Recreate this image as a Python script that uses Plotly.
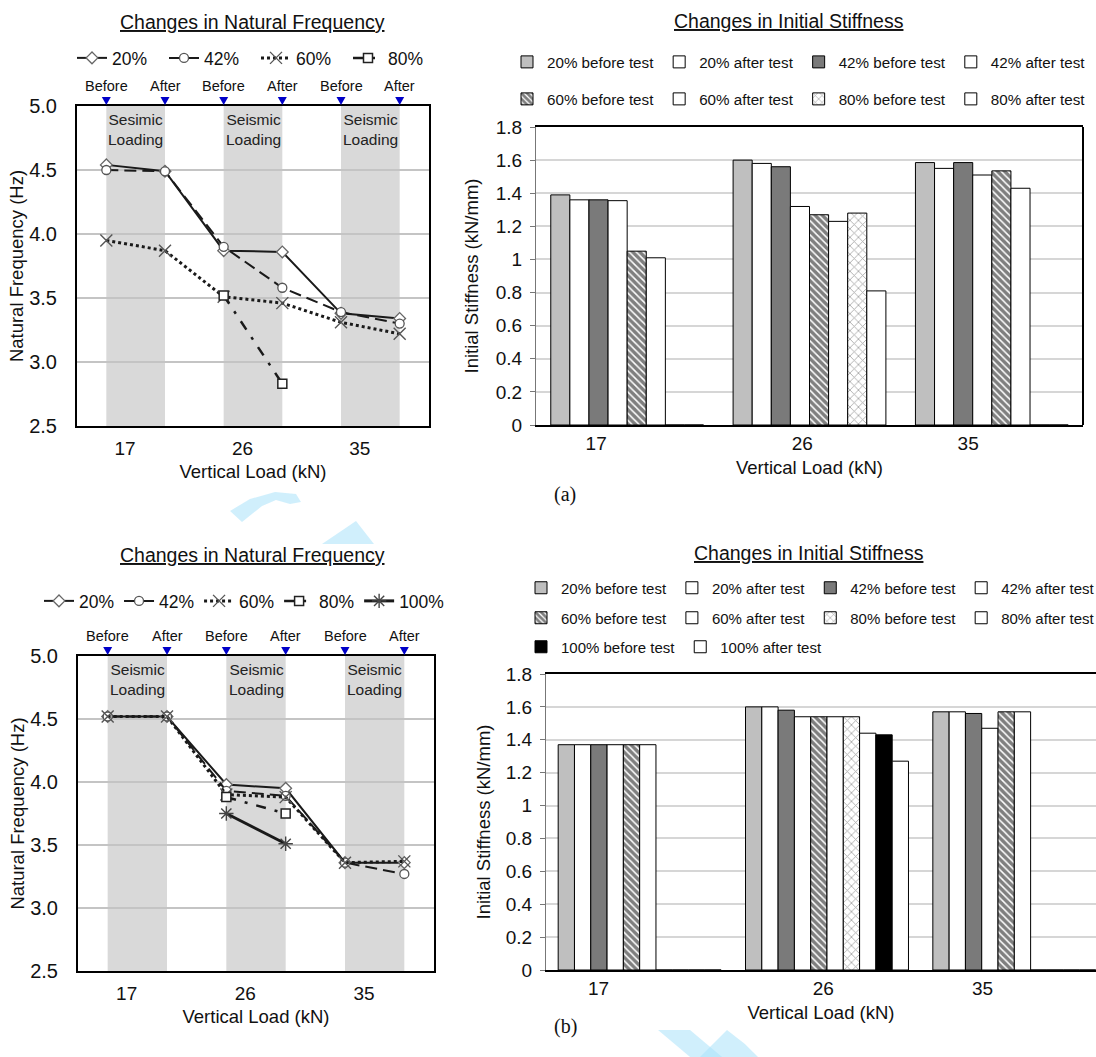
import plotly.graph_objects as go

W, H = 1096, 1057
FONT = "Liberation Sans, Arial, sans-serif"

# ---------------- data ----------------
stages = ["Before", "After", "Before", "After", "Before", "After"]
loads = ["17", "26", "35"]
band_text_a = ["Sesimic<br>Loading", "Seismic<br>Loading", "Seismic<br>Loading"]
band_text_b = ["Seismic<br>Loading", "Seismic<br>Loading", "Seismic<br>Loading"]

# (a) natural frequency (Hz) at each stage
freq_a_20 = [4.54, 4.49, 3.87, 3.86, 3.38, 3.34]
freq_a_42 = [4.50, 4.49, 3.90, 3.58, 3.39, 3.30]
freq_a_60 = [3.95, 3.87, 3.51, 3.46, 3.31, 3.22]
freq_a_80 = [None, None, 3.52, 2.83, None, None]

# (b) natural frequency (Hz)
freq_b_20 = [4.52, 4.52, 3.98, 3.95, 3.36, 3.36]
freq_b_42 = [4.52, 4.52, 3.93, 3.89, 3.36, 3.27]
freq_b_60 = [4.52, 4.52, 3.90, 3.88, 3.36, 3.37]
freq_b_80 = [None, None, 3.88, 3.75, None, None]
freq_b_100 = [None, None, 3.75, 3.51, None, None]

# (a) initial stiffness (kN/mm) for loads 17, 26, 35
stiff_a_20_before = [1.39, 1.60, 1.585]
stiff_a_20_after = [1.36, 1.58, 1.55]
stiff_a_42_before = [1.36, 1.56, 1.585]
stiff_a_42_after = [1.355, 1.32, 1.51]
stiff_a_60_before = [1.05, 1.27, 1.535]
stiff_a_60_after = [1.01, 1.23, 1.43]
stiff_a_80_before = [0, 1.28, 0]
stiff_a_80_after = [0, 0.81, 0]

# (b) initial stiffness (kN/mm)
stiff_b_20_before = [1.37, 1.60, 1.57]
stiff_b_20_after = [1.37, 1.60, 1.57]
stiff_b_42_before = [1.37, 1.58, 1.56]
stiff_b_42_after = [1.37, 1.54, 1.47]
stiff_b_60_before = [1.37, 1.54, 1.57]
stiff_b_60_after = [1.37, 1.54, 1.57]
stiff_b_80_before = [0, 1.54, 0]
stiff_b_80_after = [0, 1.44, 0]
stiff_b_100_before = [0, 1.43, 0]
stiff_b_100_after = [0, 1.27, 0]


# ---------------- helpers ----------------
def pxx(x):
    return x / W


def pxy(y):
    return 1 - y / H


fig = go.Figure()

# styles for the line series
line_styles = {
    "20%": dict(line=dict(color="#1a1a1a", width=2, dash="solid"),
                marker=dict(symbol="diamond", size=9, color="white", line=dict(color="#666", width=1.3))),
    "42%": dict(line=dict(color="#1a1a1a", width=2, dash="12px,6px"),
                marker=dict(symbol="circle", size=9, color="white", line=dict(color="#555", width=1.3))),
    "60%": dict(line=dict(color="#1a1a1a", width=3, dash="dot"),
                marker=dict(symbol="x-thin", size=12, color="#555", line=dict(color="#555", width=1.4))),
    "80%": dict(line=dict(color="#1a1a1a", width=2.5, dash="10px,9px,3px,9px"),
                marker=dict(symbol="square", size=9, color="white", line=dict(color="#222", width=1.5))),
    "100%": dict(line=dict(color="#1a1a1a", width=3, dash="solid"),
                 marker=dict(symbol="asterisk", size=12, color="#444", line=dict(color="#444", width=1.4))),
}

stage_idx = list(range(len(stages)))

line_sets = [
    ("x", "y", "legend", [("20%", freq_a_20), ("42%", freq_a_42), ("60%", freq_a_60), ("80%", freq_a_80)]),
    ("x3", "y3", "legend4", [("20%", freq_b_20), ("42%", freq_b_42), ("60%", freq_b_60), ("80%", freq_b_80),
                             ("100%", freq_b_100)]),
]
for xa, ya, lg, series in line_sets:
    for name, vals in series:
        st = line_styles[name]
        fig.add_trace(go.Scatter(x=stage_idx, y=vals, name=name, mode="lines+markers",
                                 line=st["line"], marker=st["marker"], connectgaps=False,
                                 xaxis=xa, yaxis=ya, legend=lg, cliponaxis=False))

# styles for the bar series
bar_styles = {
    "20% before test": dict(color="#bfbfbf"),
    "20% after test": dict(color="white"),
    "42% before test": dict(color="#7a7a7a"),
    "42% after test": dict(color="white"),
    "60% before test": dict(color="white", pattern=dict(shape="\\", fgcolor="#000", bgcolor="white",
                                                         size=5, solidity=0.7)),
    "60% after test": dict(color="white"),
    "80% before test": dict(color="white", pattern=dict(shape="x", fgcolor="#444", bgcolor="white",
                                                         size=6, solidity=0.25)),
    "80% after test": dict(color="white"),
    "100% before test": dict(color="black"),
    "100% after test": dict(color="white"),
}

bar_sets = [
    ("x2", "y2", 0.162,
     [("20% before test", stiff_a_20_before, "legend2"), ("20% after test", stiff_a_20_after, "legend2"),
      ("42% before test", stiff_a_42_before, "legend2"), ("42% after test", stiff_a_42_after, "legend2"),
      ("60% before test", stiff_a_60_before, "legend3"), ("60% after test", stiff_a_60_after, "legend3"),
      ("80% before test", stiff_a_80_before, "legend3"), ("80% after test", stiff_a_80_after, "legend3")]),
    ("x4", "y4", 0.13,
     [("20% before test", stiff_b_20_before, "legend5"), ("20% after test", stiff_b_20_after, "legend5"),
      ("42% before test", stiff_b_42_before, "legend5"), ("42% after test", stiff_b_42_after, "legend5"),
      ("60% before test", stiff_b_60_before, "legend6"), ("60% after test", stiff_b_60_after, "legend6"),
      ("80% before test", stiff_b_80_before, "legend6"), ("80% after test", stiff_b_80_after, "legend6"),
      ("100% before test", stiff_b_100_before, "legend7"), ("100% after test", stiff_b_100_after, "legend7")]),
]
load_idx = list(range(len(loads)))
for xa, ya, gap, series in bar_sets:
    n = len(series)
    bw = (1 - gap) / n
    for i, (name, vals, lg) in enumerate(series):
        st = dict(bar_styles[name])
        st["line"] = dict(color="black", width=1)
        fig.add_trace(go.Bar(x=load_idx, y=vals, name=name, marker=st, width=bw,
                             offset=-(1 - gap) / 2 + i * bw, xaxis=xa, yaxis=ya, legend=lg))

# ---------------- axes ----------------
dom = {
    "tl": dict(x=[77, 429], y=[106, 426]),
    "tr": dict(x=[536, 1083], y=[127, 425]),
    "bl": dict(x=[78, 434], y=[656, 971]),
    "br": dict(x=[546, W], y=[674, 970]),
}


def xdom(k):
    return [pxx(dom[k]["x"][0]), pxx(dom[k]["x"][1])]


def ydom(k):
    return [pxy(dom[k]["y"][1]), pxy(dom[k]["y"][0])]


line_label_shift = 0.32
line_x_common = dict(range=[-0.5, len(stages) - 0.5],
                     tickvals=[2 * i + line_label_shift for i in range(len(loads))], ticktext=loads,
                     showgrid=False, zeroline=False, showline=True, mirror=True, linecolor="black",
                     linewidth=2, ticks="", tickfont=dict(size=19), ticklabelstandoff=4,
                     title=dict(text="Vertical Load (kN)", font=dict(size=18.5), standoff=7))
line_y_common = dict(range=[2.5, 5.0], dtick=0.5, tickformat=".1f", showgrid=True, gridcolor="#c4c4c4",
                     gridwidth=1.5, zeroline=False, showline=True, mirror=True, linecolor="black",
                     linewidth=2, ticks="", tickfont=dict(size=20), ticklabelstandoff=14,
                     title=dict(text="Natural Frequency (Hz)", font=dict(size=18.5), standoff=1))

bar_label_shift_a = [-0.17, -0.04, -0.13]
bar_label_shift_b = [-0.22, -0.02, -0.17]


def bar_x(shift, rng):
    return dict(range=rng, tickvals=[i + s for i, s in zip(load_idx, shift)], ticktext=loads,
                showgrid=False, zeroline=False, showline=True, mirror=True, linecolor="black",
                linewidth=2, ticks="", tickfont=dict(size=19), ticklabelstandoff=0,
                title=dict(text="Vertical Load (kN)", font=dict(size=18.5), standoff=8))


def bar_y(title_standoff):
    return dict(range=[0, 1.8], dtick=0.2, showgrid=True, gridcolor="#d6d6d6", gridwidth=1.5,
                zeroline=False, showline=True, linecolor="#777", linewidth=1, ticks="outside",
                ticklen=5, tickcolor="#777", tickfont=dict(size=19), ticklabelstandoff=4,
                title=dict(text="Initial Stiffness (kN/mm)", font=dict(size=18.5), standoff=title_standoff))


layout = dict(
    width=W, height=H, margin=dict(l=0, r=0, t=0, b=0, autoexpand=False),
    paper_bgcolor="white", plot_bgcolor="white",
    font=dict(family=FONT, size=18, color="#111"), barmode="overlay", showlegend=True,
    xaxis=dict(domain=xdom("tl"), anchor="y", **line_x_common),
    yaxis=dict(domain=ydom("tl"), anchor="x", **line_y_common),
    xaxis3=dict(domain=xdom("bl"), anchor="y3", **line_x_common),
    yaxis3=dict(domain=ydom("bl"), anchor="x3", **line_y_common),
    xaxis2=dict(domain=xdom("tr"), anchor="y2", **bar_x(bar_label_shift_a, [-0.5, len(loads) - 0.5])),
    yaxis2=dict(domain=ydom("tr"), anchor="x2", **bar_y(12)),
    xaxis4=dict(domain=xdom("br"), anchor="y4",
                **bar_x(bar_label_shift_b, [-0.5, len(loads) - 0.5 - 12 / 187.5])),
    yaxis4=dict(domain=ydom("br"), anchor="x4", **bar_y(10)),
)


def legend_cfg(x, y, size, ew=None):
    d = dict(orientation="h", x=pxx(x), y=pxy(y), xanchor="left", yanchor="middle",
             font=dict(size=size, family=FONT), bgcolor="rgba(0,0,0,0)", itemwidth=30,
             traceorder="normal", tracegroupgap=0)
    if ew:
        d["entrywidth"] = ew
    return d


layout["legend"] = legend_cfg(72, 58, 17.5, 47)
layout["legend2"] = legend_cfg(507, 62, 15.2)
layout["legend3"] = legend_cfg(507, 99, 15.2)
layout["legend4"] = legend_cfg(39, 601, 17.5)
layout["legend5"] = legend_cfg(521, 588, 15)
layout["legend6"] = legend_cfg(521, 618, 15)
layout["legend7"] = legend_cfg(521, 647, 15)

fig.update_layout(**layout)

# ---------------- shapes ----------------
shapes = []
for xa, ya in [("x", "y"), ("x3", "y3")]:
    for i in range(0, len(stages), 2):
        shapes.append(dict(type="rect", xref=xa, x0=i, x1=i + 1, yref=ya + " domain", y0=0, y1=1,
                           fillcolor="#d9d9d9", line=dict(width=0), layer="below"))
    # blue "before / after" indicator triangles just above the frame
    for i in stage_idx:
        shapes.append(dict(type="path", xref=xa, yref=ya + " domain", xsizemode="pixel", ysizemode="pixel",
                           xanchor=i, yanchor=1, path="M -4.5,9 L 4.5,9 L 0,1 Z",
                           fillcolor="#0000c8", line=dict(width=0), layer="above"))
# right border of the top-right bar chart frame
shapes.append(dict(type="line", xref="x2 domain", x0=1, x1=1, yref="y2 domain", y0=0, y1=1,
                   line=dict(color="black", width=2)))


# light-blue watermark fragments
def path(points):
    return "M " + " L ".join(f"{pxx(a):.4f},{pxy(b):.4f}" for a, b in points) + " Z"


wm = "rgba(170,225,250,0.55)"
for pts in [
    [(230, 511), (250, 499), (275, 492), (296, 494), (301, 502), (290, 504), (276, 500), (262, 506), (242, 522)],
    [(322, 544), (356, 521), (374, 544)],
    [(658, 1030), (690, 1030), (722, 1057), (690, 1057)],
    [(700, 1057), (727, 1030), (745, 1044), (758, 1057)],
]:
    shapes.append(dict(type="path", xref="paper", yref="paper", layer="below", fillcolor=wm,
                       line=dict(width=0), path=path(pts)))
fig.update_layout(shapes=shapes)

# ---------------- annotations ----------------
ann = []
for xa, ya, btxt in [("x", "y", band_text_a), ("x3", "y3", band_text_b)]:
    for i, s in enumerate(stages):
        ann.append(dict(x=i, xref=xa, y=1, yref=ya + " domain", yanchor="bottom", yshift=10, text=s,
                        showarrow=False, font=dict(size=14.5, color="#111")))
    for j, t in enumerate(btxt):
        ann.append(dict(x=2 * j + 0.5, xref=xa, y=1, yref=ya + " domain", yanchor="top", yshift=-3,
                        text=t, showarrow=False, font=dict(size=15.5, color="#222")))

titles = [("Changes in Natural Frequency", 252, 22), ("Changes in Initial Stiffness", 789, 21),
          ("Changes in Natural Frequency", 252, 555), ("Changes in Initial Stiffness", 809, 553)]
for t, x, y in titles:
    ann.append(dict(x=pxx(x), y=pxy(y), xref="paper", yref="paper", text="<u>" + t + "</u>",
                    showarrow=False, font=dict(size=19.5, color="#111"), xanchor="center", yanchor="middle"))

ann.append(dict(x=pxx(565), y=pxy(494), xref="paper", yref="paper", text="(a)", showarrow=False,
                font=dict(size=20, family="Liberation Serif, Times New Roman, serif", color="#111")))
ann.append(dict(x=pxx(565), y=pxy(1040), xref="paper", yref="paper", text="(b)", showarrow=False,
                font=dict(size=20, family="Liberation Serif, Times New Roman, serif", color="#111")))
fig.update_layout(annotations=ann)

fig.write_html("out.html", config={"displayModeBar": False},
               post_script="document.body.style.margin='0';")
